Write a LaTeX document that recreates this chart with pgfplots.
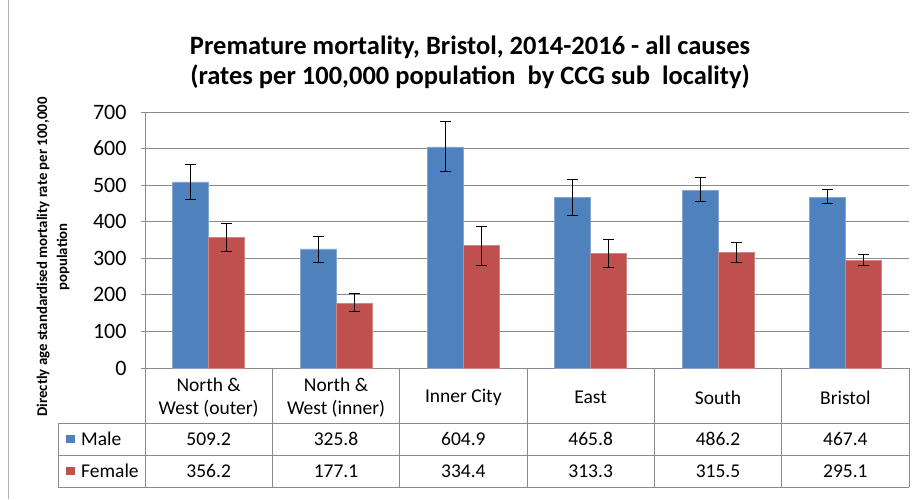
\documentclass[border=0pt]{standalone}
\usepackage{pgfplots}
\pgfplotsset{compat=1.18}
\usepackage{fontspec}
\setmainfont{Carlito}
\definecolor{male}{HTML}{4F81BD}
\definecolor{female}{HTML}{C0504D}
\definecolor{gridc}{HTML}{8A8A8A}
\begin{document}
\begin{tikzpicture}[x=1pt,y=1pt]
\path[use as bounding box] (0,0) rectangle (920,-499);
\draw[gray!60, line width=1.5pt] (8.7,0) -- (8.7,-499);
\node[font=\bfseries\fontsize{26.5}{30}\selectfont, align=center] at (470,-62)
  {Premature mortality, Bristol, 2014-2016 - all causes\\(rates per 100,000 population\ \ by CCG sub\ \ locality)};
\node[font=\bfseries\fontsize{14.8}{20}\selectfont, align=center, rotate=90] at (53,-257)
  {Directly age standardised mortality rate per 100,000\\population};
\begin{axis}[
  at={(145pt,-368pt)}, anchor=south west,
  width=764pt, height=256pt, scale only axis,
  xmin=-0.5, xmax=5.5, ymin=0, ymax=700,
  ytick={0,100,...,700},
  xtick={0,...,5},
  xticklabels={{North \&\\West (outer)},{North \&\\West (inner)},{Inner City},{East},{South},{Bristol}},
  xticklabel style={align=center, font=\fontsize{19.5}{22.5}\selectfont, anchor=center, yshift=-25.5pt},
  yticklabel style={font=\fontsize{22}{26}\selectfont, xshift=-11pt},
  /pgf/number format/assume math mode=true,
  axis lines*=left,
  axis line style={gridc, line width=0.8pt},
  xtick style={draw=none},
  ytick style={gridc, line width=0.8pt},
  tick align=outside, major tick length=4pt,
  ymajorgrids, grid style={gridc, line width=0.8pt},
  ybar=0pt, bar width=36pt,
  clip=false,
]
\addplot[fill=male, draw=male!70!white, line width=0.5pt,
  error bars/.cd, y dir=both, y explicit,
  error bar style={black, line width=0.9pt},
  error mark options={rotate=90, mark size=5.5pt, black, line width=0.9pt}]
coordinates {
 (0,509.2) += (0,48.2) -= (0,47.7)
 (1,325.8) += (0,34.2) -= (0,36.1)
 (2,604.9) += (0,69.5) -= (0,66.7)
 (3,465.8) += (0,48.7) -= (0,48.2)
 (4,486.2) += (0,33.8) -= (0,30.2)
 (5,467.4) += (0,20.6) -= (0,17.8)
};
\addplot[fill=female, draw=female!70!white, line width=0.5pt,
  error bars/.cd, y dir=both, y explicit,
  error bar style={black, line width=0.9pt},
  error mark options={rotate=90, mark size=5.5pt, black, line width=0.9pt}]
coordinates {
 (0,356.2) += (0,38.6) -= (0,37.3)
 (1,177.1) += (0,25.8) -= (0,23.6)
 (2,334.4) += (0,52.1) -= (0,52.9)
 (3,313.3) += (0,37.6) -= (0,38.2)
 (4,315.5) += (0,27.2) -= (0,26.7)
 (5,295.1) += (0,14.7) -= (0,13.6)
};
\end{axis}
% data table
\begin{scope}[gridc, line width=0.8pt]
\draw (145,-368) -- (145,-487);
\foreach \k in {1,...,6} { \draw ({145+127.33*\k},-368) -- ({145+127.33*\k},-487); }
\draw (58,-423) -- (909,-423);
\draw (58,-455) -- (909,-455);
\draw (58,-487) -- (909,-487);
\draw (58,-423) -- (58,-487);
\end{scope}
\fill[male] (66,-434.5) rectangle (74.5,-443);
\fill[female] (66,-466.5) rectangle (74.5,-475);
\begin{scope}[font=\fontsize{19.5}{24}\selectfont]
\node[anchor=west, inner sep=0] at (81,-439) {Male};
\node[anchor=west, inner sep=0] at (81,-471) {Female};
\foreach \v [count=\i from 0] in {509.2,325.8,604.9,465.8,486.2,467.4} {
  \node at ({208.7+127.33*\i},-439) {\v};
}
\foreach \v [count=\i from 0] in {356.2,177.1,334.4,313.3,315.5,295.1} {
  \node at ({208.7+127.33*\i},-471) {\v};
}
\end{scope}
\end{tikzpicture}
\end{document}
